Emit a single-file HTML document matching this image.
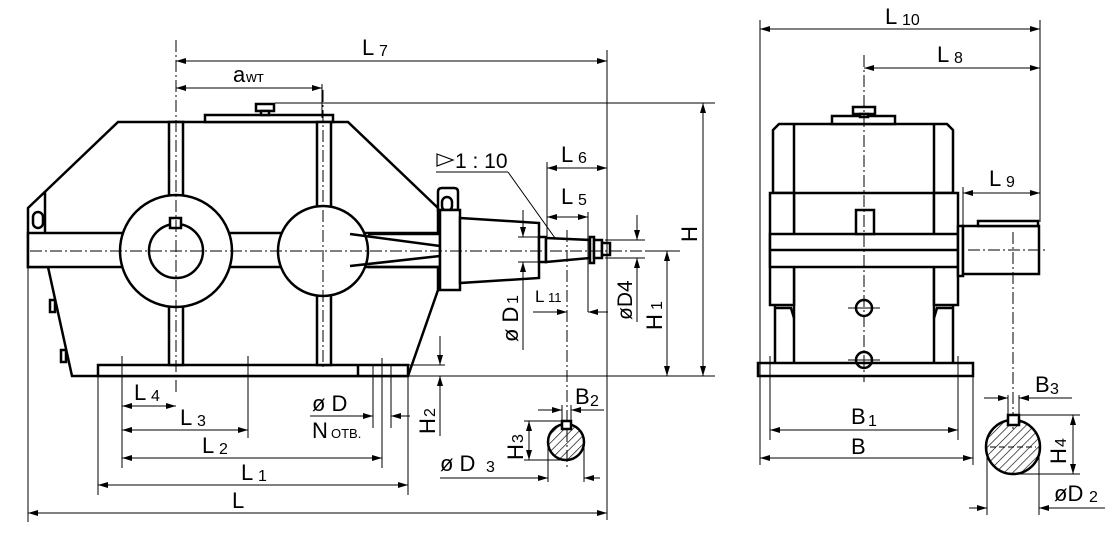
<!DOCTYPE html>
<html><head><meta charset="utf-8"><style>
html,body{margin:0;padding:0;background:#fff}
svg{display:block}
text{font-family:"Liberation Sans",sans-serif;fill:#000}
.o{fill:none;stroke:#000;stroke-width:2.5}
.ow{fill:#fff;stroke:#000;stroke-width:2.5}
.d{fill:none;stroke:#000;stroke-width:1}
.c{fill:none;stroke:#000;stroke-width:1;stroke-dasharray:12,3,2,3}
</style></head><body>
<svg width="1118" height="535" viewBox="0 0 1118 535" xmlns="http://www.w3.org/2000/svg">
<defs>
<marker id="a" viewBox="0 0 10 6" refX="10" refY="3" markerWidth="11" markerHeight="6" orient="auto-start-reverse" markerUnits="userSpaceOnUse"><path d="M0,0L10,3L0,6z" fill="#000"/></marker>
<pattern id="h" width="6" height="6" patternUnits="userSpaceOnUse" patternTransform="rotate(45)"><line x1="0" y1="0" x2="0" y2="6" stroke="#000" stroke-width="1.3"/></pattern>
</defs>

<path class="o" d="M118,122 L348,122 L438,208 L438,290 L408,376 L72,376 L48,267 L28,267 L28,208 Z"/>
<line class="o" x1="45" y1="192" x2="45" y2="232"/>
<rect class="o" x="33" y="212" width="10" height="16" rx="5"/>
<rect class="o" x="50" y="300" width="5" height="12"/>
<rect class="o" x="61" y="350" width="5" height="12"/>
<rect class="ow" x="205" y="115" width="128" height="7"/>
<rect class="ow" x="256" y="104" width="18" height="7"/>
<rect class="ow" x="261" y="111" width="8" height="4"/>
<rect class="ow" x="98" y="365" width="310" height="11"/>
<line class="o" x1="358" y1="365" x2="358" y2="376"/>
<rect class="ow" x="28" y="233" width="412" height="34"/>
<rect class="ow" x="169" y="122" width="14" height="243"/>
<rect class="ow" x="317" y="122" width="14" height="243"/>
<circle class="ow" cx="176" cy="251" r="56"/>
<circle class="ow" cx="176" cy="251" r="27"/>
<rect class="ow" x="170" y="218" width="11" height="10"/>
<circle class="ow" cx="323" cy="251" r="45"/>
<path class="o" d="M350,234 L440,246 M350,266 L440,256 M368,234 L440,234 M368,267 L440,267"/>
<path class="ow" d="M438,210 L438,192 Q438,188 442,188 L454,188 Q458,188 458,192 L458,210 Z"/>
<rect class="o" x="442" y="197" width="10" height="14" rx="5"/>
<rect class="ow" x="440" y="210" width="20" height="80"/>
<path class="ow" d="M460,218 L539,223 L539,278 L460,283 Z"/>
<rect class="ow" x="539" y="237" width="7" height="25"/>
<path class="ow" d="M546,238 L590,240 L590,258 L546,262 Z"/>
<rect class="ow" x="590" y="237" width="4" height="26"/>
<rect class="ow" x="594" y="240" width="8" height="18"/>
<rect class="ow" x="602" y="243" width="8" height="12"/>
<line class="c" x1="30" y1="251" x2="650" y2="251"/>
<line class="c" x1="176" y1="40" x2="176" y2="395"/>
<line class="c" x1="323" y1="90" x2="323" y2="370"/>
<line class="c" x1="567" y1="230" x2="567" y2="470"/>

<line class="d" x1="176" y1="61" x2="607" y2="61" marker-start="url(#a)" marker-end="url(#a)"/>
<text x="362" y="55" font-size="22">L</text><text x="379" y="56" font-size="16">7</text>
<line class="d" x1="176" y1="88" x2="322" y2="88" marker-start="url(#a)" marker-end="url(#a)"/>
<line class="d" x1="322" y1="84" x2="322" y2="118"/>
<text x="233" y="82" font-size="22">a</text><text x="246" y="82" font-size="15">wт</text>
<line class="d" x1="607" y1="50" x2="607" y2="520"/>
<line class="d" x1="275" y1="103" x2="715" y2="103"/>
<line class="d" x1="408" y1="376" x2="715" y2="376"/>
<line class="d" x1="703" y1="103" x2="703" y2="376" marker-start="url(#a)" marker-end="url(#a)"/>
<text transform="translate(697,242) rotate(-90)" font-size="22">H</text>
<line class="d" x1="645" y1="251" x2="680" y2="251"/>
<line class="d" x1="667" y1="251" x2="667" y2="376" marker-start="url(#a)" marker-end="url(#a)"/>
<text transform="translate(662,330) rotate(-90)" font-size="22">H</text><text transform="translate(662,310) rotate(-90)" font-size="16">1</text>
<path d="M437,154 L453,160 L437,166 Z" fill="none" stroke="#000" stroke-width="1.2"/>
<text x="455" y="168" font-size="21">1 : 10</text>
<line class="d" x1="436" y1="172" x2="508" y2="172"/>
<line class="d" x1="508" y1="172" x2="555" y2="238"/>
<line class="d" x1="547" y1="162" x2="547" y2="237"/>
<line class="d" x1="547" y1="168" x2="607" y2="168" marker-start="url(#a)" marker-end="url(#a)"/>
<text x="561" y="162" font-size="22">L</text><text x="578" y="163" font-size="16">6</text>
<line class="d" x1="588" y1="212" x2="588" y2="312"/>
<line class="d" x1="547" y1="217" x2="588" y2="217" marker-start="url(#a)" marker-end="url(#a)"/>
<text x="561" y="204" font-size="22">L</text><text x="578" y="205" font-size="16">5</text>
<line class="d" x1="533" y1="312" x2="567" y2="312" marker-end="url(#a)"/>
<line class="d" x1="608" y1="312" x2="588" y2="312" marker-end="url(#a)"/>
<text x="535" y="302" font-size="17">L</text><text x="548" y="302" font-size="13">11</text>
<line class="d" x1="518" y1="237" x2="540" y2="237"/>
<line class="d" x1="518" y1="262" x2="540" y2="262"/>
<line class="d" x1="523" y1="210" x2="523" y2="237" marker-end="url(#a)"/>
<line class="d" x1="523" y1="350" x2="523" y2="262" marker-end="url(#a)"/>
<text transform="translate(518,342) rotate(-90)" font-size="22">ø D</text><text transform="translate(518,304) rotate(-90)" font-size="16">1</text>
<line class="d" x1="605" y1="240" x2="645" y2="240"/>
<line class="d" x1="605" y1="258" x2="645" y2="258"/>
<line class="d" x1="637" y1="215" x2="637" y2="240" marker-end="url(#a)"/>
<line class="d" x1="637" y1="322" x2="637" y2="258" marker-end="url(#a)"/>
<text transform="translate(632,320) rotate(-90)" font-size="21">øD4</text>
<line class="d" x1="408" y1="365" x2="445" y2="365"/>
<line class="d" x1="440" y1="336" x2="440" y2="365" marker-end="url(#a)"/>
<line class="d" x1="440" y1="436" x2="440" y2="376" marker-end="url(#a)"/>
<text transform="translate(435,434) rotate(-90)" font-size="22">H</text><text transform="translate(435,417) rotate(-90)" font-size="16">2</text>
<circle cx="566" cy="442" r="18" fill="url(#h)" stroke="#000" stroke-width="2.5"/>
<rect class="ow" x="562" y="421" width="9" height="8"/>
<line class="d" x1="562" y1="405" x2="562" y2="421"/><line class="d" x1="571" y1="405" x2="571" y2="421"/>
<line class="d" x1="538" y1="410" x2="562" y2="410" marker-end="url(#a)"/>
<line class="d" x1="604" y1="410" x2="571" y2="410" marker-end="url(#a)"/>
<text x="575" y="404" font-size="22">B</text><text x="590" y="406" font-size="16">2</text>
<line class="d" x1="524" y1="421" x2="562" y2="421"/>
<line class="d" x1="524" y1="460" x2="566" y2="460"/>
<line class="d" x1="529" y1="421" x2="529" y2="460" marker-start="url(#a)" marker-end="url(#a)"/>
<text transform="translate(523,460) rotate(-90)" font-size="22">H</text><text transform="translate(523,443) rotate(-90)" font-size="16">3</text>
<line class="d" x1="548" y1="442" x2="548" y2="482"/><line class="d" x1="584" y1="442" x2="584" y2="482"/>
<line class="d" x1="440" y1="478" x2="548" y2="478" marker-end="url(#a)"/>
<line class="d" x1="600" y1="478" x2="584" y2="478" marker-end="url(#a)"/>
<text x="440" y="471" font-size="22">ø D</text><text x="486" y="472" font-size="16">3</text>

<line class="d" x1="28" y1="267" x2="28" y2="522"/>
<line class="d" x1="98" y1="376" x2="98" y2="495"/>
<line class="d" x1="122" y1="356" x2="122" y2="468"/>
<line class="d" x1="248" y1="356" x2="248" y2="438"/>
<line class="d" x1="382" y1="358" x2="382" y2="468"/>
<line class="d" x1="408" y1="376" x2="408" y2="495"/>
<line class="d" x1="373" y1="365" x2="373" y2="428"/>
<line class="d" x1="391" y1="365" x2="391" y2="428"/>
<line class="d" x1="122" y1="406" x2="176" y2="406" marker-start="url(#a)" marker-end="url(#a)"/>
<text x="134" y="400" font-size="22">L</text><text x="151" y="401" font-size="16">4</text>
<line class="d" x1="122" y1="430" x2="248" y2="430" marker-start="url(#a)" marker-end="url(#a)"/>
<text x="180" y="425" font-size="22">L</text><text x="197" y="426" font-size="16">3</text>
<line class="d" x1="122" y1="458" x2="382" y2="458" marker-start="url(#a)" marker-end="url(#a)"/>
<text x="202" y="453" font-size="22">L</text><text x="219" y="454" font-size="16">2</text>
<line class="d" x1="98" y1="485" x2="408" y2="485" marker-start="url(#a)" marker-end="url(#a)"/>
<text x="241" y="480" font-size="22">L</text><text x="258" y="481" font-size="16">1</text>
<line class="d" x1="28" y1="513" x2="607" y2="513" marker-start="url(#a)" marker-end="url(#a)"/>
<text x="232" y="508" font-size="22">L</text>
<line class="d" x1="310" y1="416" x2="373" y2="416" marker-end="url(#a)"/>
<line class="d" x1="410" y1="416" x2="391" y2="416" marker-end="url(#a)"/>
<text x="312" y="411" font-size="22">ø D</text>
<text x="312" y="438" font-size="22">N</text><text x="331" y="438" font-size="13">ОТВ.</text>

<path class="ow" d="M773,130 L779,124 L947,124 L953,130 L953,193 L773,193 Z"/>
<rect class="ow" x="832" y="116" width="63" height="8"/>
<rect class="ow" x="853" y="107" width="22" height="7"/>
<rect class="ow" x="860" y="114" width="8" height="3"/>
<line class="o" x1="794" y1="124" x2="794" y2="363"/>
<line class="o" x1="934" y1="124" x2="934" y2="363"/>
<rect class="ow" x="770" y="193" width="24" height="112"/>
<rect class="ow" x="934" y="193" width="24" height="112"/>
<path class="o" d="M775,305 L775,363 M953,305 L953,363 M775,308 L791,308 L794,318 M953,308 L937,308 L934,318"/>
<rect class="ow" x="758" y="363" width="215" height="13"/>
<rect class="ow" x="770" y="234" width="188" height="33"/>
<line class="o" x1="770" y1="250" x2="958" y2="250"/>
<rect class="ow" x="856" y="210" width="18" height="24"/>
<circle class="o" cx="864" cy="308" r="8"/>
<circle class="o" cx="864" cy="360" r="8"/>
<line class="d" x1="848" y1="308" x2="880" y2="308"/><line class="d" x1="848" y1="360" x2="880" y2="360"/>
<line class="c" x1="864" y1="55" x2="864" y2="382"/>
<rect class="ow" x="958" y="226" width="5" height="50"/>
<rect class="ow" x="963" y="226" width="76" height="48"/>
<rect class="ow" x="978" y="221" width="60" height="5"/>
<line class="c" x1="968" y1="250" x2="1045" y2="250"/>
<line class="c" x1="1013" y1="232" x2="1013" y2="430"/>
<line class="d" x1="760" y1="20" x2="760" y2="465"/>
<line class="d" x1="1040" y1="20" x2="1040" y2="222"/>
<line class="d" x1="760" y1="29" x2="1040" y2="29" marker-start="url(#a)" marker-end="url(#a)"/>
<text x="885" y="24" font-size="22">L</text><text x="902" y="25" font-size="16">10</text>
<line class="d" x1="864" y1="68" x2="1040" y2="68" marker-start="url(#a)" marker-end="url(#a)"/>
<text x="937" y="62" font-size="22">L</text><text x="954" y="63" font-size="16">8</text>
<line class="d" x1="963" y1="187" x2="963" y2="226"/>
<line class="d" x1="963" y1="193" x2="1040" y2="193" marker-start="url(#a)" marker-end="url(#a)"/>
<text x="989" y="186" font-size="22">L</text><text x="1006" y="187" font-size="16">9</text>
<line class="d" x1="770" y1="356" x2="770" y2="440"/>
<line class="d" x1="958" y1="356" x2="958" y2="440"/>
<line class="d" x1="973" y1="376" x2="973" y2="465"/>
<line class="d" x1="770" y1="430" x2="958" y2="430" marker-start="url(#a)" marker-end="url(#a)"/>
<text x="851" y="424" font-size="22">B</text><text x="868" y="426" font-size="16">1</text>
<line class="d" x1="760" y1="458" x2="973" y2="458" marker-start="url(#a)" marker-end="url(#a)"/>
<text x="851" y="454" font-size="22">B</text>
<circle cx="1013" cy="447" r="27" fill="url(#h)" stroke="#000" stroke-width="2.5"/>
<line x1="990" y1="447" x2="1036" y2="447" stroke="#000" stroke-width="1" stroke-dasharray="6,3"/>
<rect class="ow" x="1008" y="415" width="11" height="10"/>
<line class="d" x1="1008" y1="395" x2="1008" y2="415"/><line class="d" x1="1019" y1="395" x2="1019" y2="415"/>
<line class="d" x1="984" y1="398" x2="1008" y2="398" marker-end="url(#a)"/>
<line class="d" x1="1072" y1="398" x2="1019" y2="398" marker-end="url(#a)"/>
<text x="1035" y="392" font-size="22">B</text><text x="1050" y="394" font-size="16">3</text>
<line class="d" x1="1019" y1="415" x2="1080" y2="415"/>
<line class="d" x1="1013" y1="474" x2="1080" y2="474"/>
<line class="d" x1="1073" y1="415" x2="1073" y2="474" marker-start="url(#a)" marker-end="url(#a)"/>
<text transform="translate(1066,464) rotate(-90)" font-size="22">H</text><text transform="translate(1066,447) rotate(-90)" font-size="16">4</text>
<line class="d" x1="987" y1="447" x2="987" y2="515"/><line class="d" x1="1039" y1="447" x2="1039" y2="515"/>
<line class="d" x1="969" y1="508" x2="987" y2="508" marker-end="url(#a)"/>
<line class="d" x1="1105" y1="508" x2="1039" y2="508" marker-end="url(#a)"/>
<text x="1054" y="501" font-size="22">øD</text><text x="1089" y="502" font-size="16">2</text>
</svg>
</body></html>
